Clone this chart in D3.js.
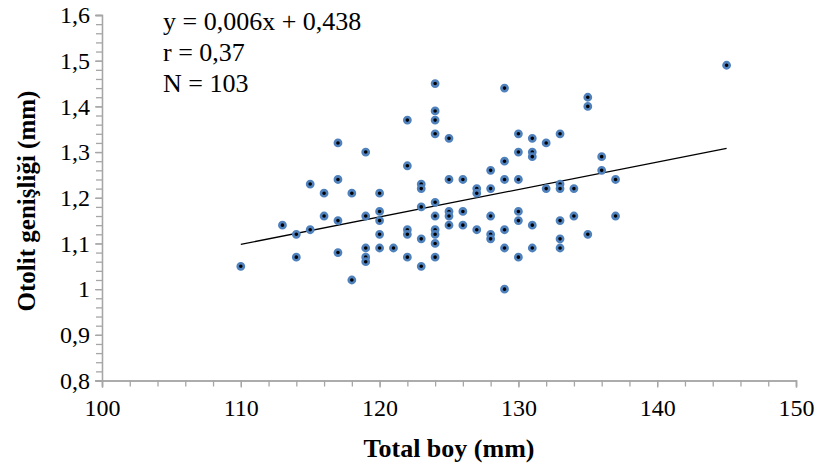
<!DOCTYPE html>
<html lang="tr">
<head>
<meta charset="UTF-8">
<title>Otolit genişliği - Total boy</title>
<script src="https://cdn.jsdelivr.net/npm/d3@7"></script>
<style>
  body { margin: 0; padding: 0; background: #fff; }
  svg { display: block; }
  svg text { font-family: "Liberation Serif", "Times New Roman", serif; }
</style>
</head>
<body>
<div id="chart"></div>
<script>
// total length (mm) and otolith width (mm)
const totalBoy = [
  110, 113, 114, 114, 115, 115, 116, 116, 117, 117, 117, 117, 118, 118,
  119, 119, 119, 119, 119, 120, 120, 120, 120, 120, 121,
  122, 122, 122, 122, 122, 123, 123, 123, 123, 123,
  124, 124, 124, 124, 124, 124, 124, 124, 124, 124,
  125, 125, 125, 125, 125, 126, 126, 126, 127, 127, 127,
  128, 128, 128, 128, 128, 129, 129, 129, 129, 129, 129,
  130, 130, 130, 130, 130, 130, 131, 131, 131, 131, 131, 132, 132,
  133, 133, 133, 133, 133, 133, 134, 134, 135, 135, 135, 136, 136, 137, 137, 145
];
const otolitGenisligi = [
  1.05, 1.14, 1.12, 1.07, 1.23, 1.13, 1.21, 1.16, 1.32, 1.24, 1.15, 1.08, 1.21, 1.02,
  1.30, 1.16, 1.09, 1.07, 1.06, 1.21, 1.17, 1.15, 1.12, 1.09, 1.09,
  1.37, 1.27, 1.13, 1.12, 1.07, 1.23, 1.22, 1.18, 1.11, 1.05,
  1.45, 1.39, 1.37, 1.34, 1.19, 1.16, 1.13, 1.12, 1.10, 1.07,
  1.33, 1.24, 1.17, 1.16, 1.14, 1.24, 1.17, 1.14, 1.22, 1.21, 1.13,
  1.26, 1.22, 1.16, 1.12, 1.11, 1.44, 1.28, 1.24, 1.13, 1.09, 1.00,
  1.34, 1.30, 1.24, 1.17, 1.15, 1.07, 1.33, 1.30, 1.29, 1.14, 1.09, 1.32, 1.22,
  1.34, 1.23, 1.22, 1.15, 1.11, 1.09, 1.22, 1.16, 1.42, 1.40, 1.12, 1.29, 1.26, 1.24, 1.16, 1.49
];

const xTicks = [100, 110, 120, 130, 140, 150];
const yTicks = [0.8, 0.9, 1.0, 1.1, 1.2, 1.3, 1.4, 1.5, 1.6];
const trendSlope = 0.006, trendIntercept = 0.438;
const trendRange = [110, 145];
const statLines = ["y = 0,006x + 0,438", "r = 0,37", "N = 103"];

const width = 819, height = 472;
const svg = d3.select("#chart").append("svg")
  .attr("width", width).attr("height", height);

const x = d3.scaleLinear().domain([100, 150]).range([102, 796]);
const y = d3.scaleLinear().domain([0.8, 1.6]).range([380.5, 15]);
const axisColor = "#a6a6a6";
const serif = '"Liberation Serif", "Times New Roman", serif';
const fmt = d => String(+d.toFixed(1)).replace(".", ",");

// minor ticks
const xAxisMinor = d3.axisBottom(x).tickValues(d3.range(100, 151, 2)).tickSize(6).tickFormat("");
const yAxisMinor = d3.axisLeft(y).tickValues(d3.range(0, 41).map(i => 0.8 + i * 0.02)).tickSize(6).tickFormat("");

const gxm = svg.append("g").attr("transform", `translate(0,${y(0.8)})`).call(xAxisMinor);
const gym = svg.append("g").attr("transform", `translate(${x(100)},0)`).call(yAxisMinor);

const gx = svg.append("g").attr("transform", `translate(0,${y(0.8)})`)
  .call(d3.axisBottom(x).tickValues(xTicks).tickSize(7).tickPadding(11).tickFormat(d => d));
const gy = svg.append("g").attr("transform", `translate(${x(100)},0)`)
  .call(d3.axisLeft(y).tickValues(yTicks).tickSize(7).tickPadding(5).tickFormat(fmt));

[gxm, gym, gx, gy].forEach(g => {
  g.attr("font-family", serif).attr("font-size", 24);
  g.selectAll("path, line").attr("stroke", axisColor).attr("stroke-width", 1.3);
  g.selectAll("text").style("font-family", serif).style("font-size", "24px").attr("fill", "#000");
});

// trend line
svg.append("line")
  .attr("x1", x(trendRange[0])).attr("y1", y(trendSlope * trendRange[0] + trendIntercept))
  .attr("x2", x(trendRange[1])).attr("y2", y(trendSlope * trendRange[1] + trendIntercept))
  .attr("stroke", "#000").attr("stroke-width", 1.3);

// points
svg.append("g").selectAll("circle")
  .data(totalBoy.map((d, i) => [d, otolitGenisligi[i]]))
  .join("circle")
  .attr("cx", d => x(d[0]))
  .attr("cy", d => y(d[1]))
  .attr("r", 3.1)
  .attr("fill", "#000")
  .attr("stroke", "#4f81bd")
  .attr("stroke-width", 2.6);

// equation block
svg.append("text")
  .attr("x", 163).attr("y", 29.5)
  .style("font-size", "26px")
  .selectAll("tspan").data(statLines).join("tspan")
  .attr("x", 163).attr("dy", (d, i) => i === 0 ? 0 : 31)
  .text(d => d);

// axis titles
svg.append("text")
  .attr("x", (x(100) + x(150)) / 2).attr("y", 457)
  .attr("text-anchor", "middle").style("font-size", "26px").attr("font-weight", "bold")
  .text("Total boy (mm)");

svg.append("text")
  .attr("transform", `translate(35,201) rotate(-90)`)
  .attr("text-anchor", "middle").style("font-size", "25px").attr("font-weight", "bold")
  .text("Otolit genişliği (mm)");
</script>
</body>
</html>
